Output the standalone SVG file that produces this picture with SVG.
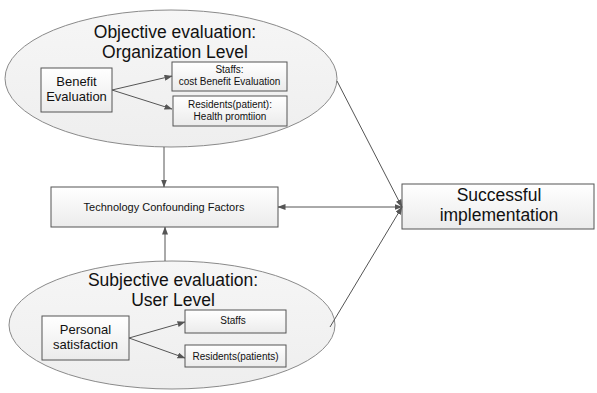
<svg xmlns="http://www.w3.org/2000/svg" width="597" height="393" viewBox="0 0 597 393">
<style>
text{font-family:"Liberation Sans",Arial,sans-serif;fill:#111;text-anchor:middle}
.ell{fill:url(#eg);stroke:#8a8a8a;stroke-width:1}
.box{fill:url(#bg);stroke:#555;stroke-width:1}
.c{stroke:#555;stroke-width:1;fill:none}
.t1{font-size:17.5px}
.t2{font-size:13px}
.t3{font-size:10px}
.t4{font-size:11px}
</style>
<defs>
<linearGradient id="eg" x1="0" y1="0" x2="0" y2="1"><stop offset="0" stop-color="#f6f6f6"/><stop offset="1" stop-color="#eeeeee"/></linearGradient>
<linearGradient id="bg" x1="0" y1="0" x2="0" y2="1"><stop offset="0" stop-color="#ffffff"/><stop offset="1" stop-color="#ebebeb"/></linearGradient>
<marker id="ah" markerWidth="8" markerHeight="6" refX="7.5" refY="3" orient="auto" markerUnits="userSpaceOnUse"><path d="M0,0 L8,3 L0,6 Z" fill="#555"/></marker>
<marker id="as" markerWidth="8" markerHeight="6" refX="0.5" refY="3" orient="auto" markerUnits="userSpaceOnUse"><path d="M8,0 L0,3 L8,6 Z" fill="#555"/></marker>
</defs>
<g id="objective">
<ellipse class="ell" cx="171" cy="78.5" rx="166" ry="68.5"/>
<text class="t1" x="175" y="38">Objective evaluation:</text>
<text class="t1" x="175" y="58">Organization Level</text>
</g>
<g id="benefit">
<rect class="box" x="41" y="68" width="71" height="44"/>
<text class="t2" x="76.5" y="86">Benefit</text>
<text class="t2" x="76.5" y="101">Evaluation</text>
</g>
<g id="staffs-top">
<rect class="box" x="172" y="62" width="115" height="29"/>
<text class="t3" x="229.5" y="73">Staffs:</text>
<text class="t3" x="229.5" y="85">cost Benefit Evaluation</text>
</g>
<g id="residents-top">
<rect class="box" x="173" y="96" width="114" height="30"/>
<text class="t3" x="230" y="108">Residents(patient):</text>
<text class="t3" x="230" y="120">Health promtiion</text>
</g>
<g id="tech">
<rect class="box" x="51" y="187" width="227" height="40"/>
<text class="t4" x="164" y="211">Technology Confounding Factors</text>
</g>
<g id="success">
<rect class="box" x="402" y="184" width="192" height="45"/>
<text class="t1" x="499" y="201">Successful</text>
<text class="t1" x="499" y="221">implementation</text>
</g>
<g id="subjective">
<ellipse class="ell" cx="172" cy="325" rx="163" ry="64"/>
<text class="t1" x="173" y="286">Subjective evaluation:</text>
<text class="t1" x="173" y="306">User Level</text>
</g>
<g id="personal">
<rect class="box" x="42" y="316" width="87" height="44"/>
<text class="t2" x="85.5" y="334">Personal</text>
<text class="t2" x="85.5" y="349">satisfaction</text>
</g>
<g id="staffs-bottom">
<rect class="box" x="185" y="310" width="101" height="23"/>
<text class="t3" x="233" y="324">Staffs</text>
</g>
<g id="residents-bottom">
<rect class="box" x="185" y="345" width="101" height="22"/>
<text class="t3" x="235.5" y="360">Residents(patients)</text>
</g>
<g id="connectors">
<line class="c" x1="112" y1="90" x2="172" y2="76" marker-end="url(#ah)"/>
<line class="c" x1="112" y1="90" x2="172" y2="109" marker-end="url(#ah)"/>
<line class="c" x1="164" y1="147" x2="164" y2="187" marker-end="url(#ah)"/>
<line class="c" x1="165" y1="261" x2="165" y2="227" marker-end="url(#ah)"/>
<line class="c" x1="278" y1="207" x2="402" y2="207" marker-start="url(#as)" marker-end="url(#ah)"/>
<line class="c" x1="337" y1="81" x2="402" y2="207" marker-end="url(#ah)"/>
<line class="c" x1="330" y1="327" x2="402" y2="207" marker-end="url(#ah)"/>
<line class="c" x1="129" y1="338" x2="185" y2="322" marker-end="url(#ah)"/>
<line class="c" x1="129" y1="338" x2="185" y2="358" marker-end="url(#ah)"/>
</g>
</svg>
